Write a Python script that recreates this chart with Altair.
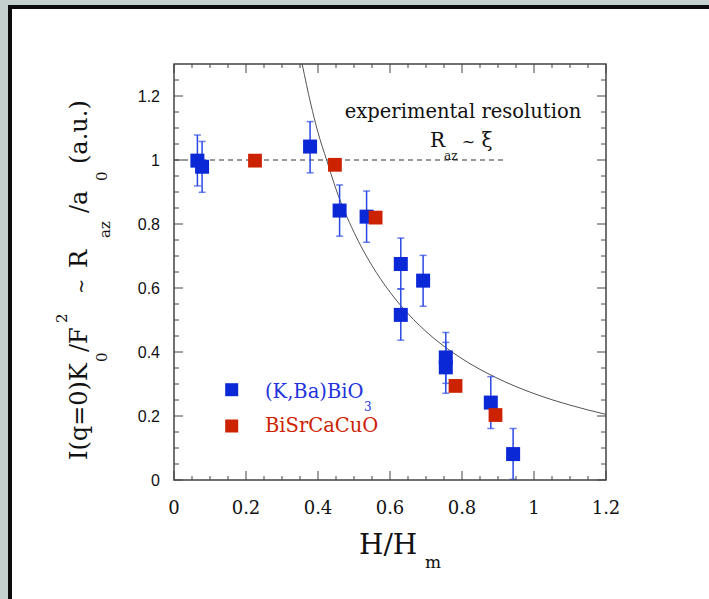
import altair as alt
import pandas as pd

# ---------------- data ----------------
kba_x = [0.065, 0.078, 0.378, 0.460, 0.535, 0.630, 0.630, 0.692, 0.755, 0.755, 0.880, 0.942]
kba_y = [0.998, 0.979, 1.042, 0.842, 0.823, 0.675, 0.516, 0.623, 0.383, 0.352, 0.242, 0.081]
kba_lo = [0.919, 0.899, 0.960, 0.762, 0.743, 0.597, 0.437, 0.543, 0.302, 0.271, 0.161, 0.002]
kba_hi = [1.078, 1.058, 1.120, 0.922, 0.903, 0.756, 0.597, 0.702, 0.461, 0.430, 0.323, 0.161]

bsc_x = [0.225, 0.447, 0.560, 0.782, 0.893]
bsc_y = [0.998, 0.985, 0.820, 0.294, 0.203]

curve_x = [0.356, 0.38, 0.40, 0.424, 0.45, 0.50, 0.55, 0.60, 0.63, 0.70, 0.80, 0.90, 1.00, 1.10, 1.20]
curve_y = [1.300, 1.175, 1.086, 1.000, 0.909, 0.774, 0.670, 0.587, 0.545, 0.464, 0.379, 0.317, 0.270, 0.234, 0.205]

res_x = [0.0, 0.915]
res_y = [1.0, 1.0]

x_major = [0, 0.2, 0.4, 0.6, 0.8, 1.0, 1.2]
x_labels = ["0", "0.2", "0.4", "0.6", "0.8", "1", "1.2"]
x_minor = [0.05, 0.1, 0.15, 0.25, 0.3, 0.35, 0.45, 0.5, 0.55, 0.65, 0.7, 0.75,
           0.85, 0.9, 0.95, 1.05, 1.1, 1.15]
y_major = [0, 0.2, 0.4, 0.6, 0.8, 1.0, 1.2]
y_labels = ["0", "0.2", "0.4", "0.6", "0.8", "1", "1.2"]
y_minor = [0.05, 0.1, 0.15, 0.25, 0.3, 0.35, 0.45, 0.5, 0.55, 0.65, 0.7, 0.75,
           0.85, 0.9, 0.95, 1.05, 1.1, 1.15, 1.25]

# ---------------- layout ----------------
W, H = 432, 416
SERIF = "DejaVu Serif"
BLUE = "#0a28d6"
BLUE_ERR = "#2a48e6"
RED = "#cc2200"
FRAME = "#444444"

xs = alt.Scale(domain=[0, 1.2], nice=False, zero=False)
ys = alt.Scale(domain=[0, 1.3], nice=False, zero=False)

kba = pd.DataFrame({"x": kba_x, "y": kba_y, "lo": kba_lo, "hi": kba_hi})
bsc = pd.DataFrame({"x": bsc_x, "y": bsc_y})
curve = pd.DataFrame({"x": curve_x, "y": curve_y})
res = pd.DataFrame({"x": res_x, "y": res_y})
one = pd.DataFrame({"d": [0]})

X = lambda: alt.X("x:Q", scale=xs, axis=None)
Y = lambda: alt.Y("y:Q", scale=ys, axis=None)

# background frame (decoration)
frame_black = alt.Chart(one).mark_rect(color="#0b0b0b").encode(
    x=alt.value(-166), x2=alt.value(W + 140), y=alt.value(-59), y2=alt.value(H + 140))
frame_white = alt.Chart(one).mark_rect(color="white").encode(
    x=alt.value(-162), x2=alt.value(W + 140), y=alt.value(-55), y2=alt.value(H + 140))

# tick labels
xlab = alt.Chart(pd.DataFrame({"v": x_major, "lab": x_labels})).mark_text(
    font=SERIF, fontSize=18, color="#111", align="center", baseline="alphabetic").encode(
    x=alt.X("v:Q", scale=xs, axis=None), y=alt.value(H + 34), text="lab:N")
ylab = alt.Chart(pd.DataFrame({"v": y_major, "lab": y_labels})).mark_text(
    font="Liberation Sans", fontSize=16, color="#111", align="right", baseline="alphabetic", dy=5.5).encode(
    y=alt.Y("v:Q", scale=ys, axis=None), x=alt.value(-14), text="lab:N")

def xticks(vals, length):
    d = pd.DataFrame({"v": vals})
    b = alt.Chart(d).mark_rule(color=FRAME, strokeWidth=1).encode(
        x=alt.X("v:Q", scale=xs, axis=None), y=alt.value(H), y2=alt.value(H - length))
    t = alt.Chart(d).mark_rule(color=FRAME, strokeWidth=1).encode(
        x=alt.X("v:Q", scale=xs, axis=None), y=alt.value(0), y2=alt.value(length))
    return [b, t]

def yticks(vals, length):
    d = pd.DataFrame({"v": vals})
    l = alt.Chart(d).mark_rule(color=FRAME, strokeWidth=1).encode(
        y=alt.Y("v:Q", scale=ys, axis=None), x=alt.value(0), x2=alt.value(length))
    r = alt.Chart(d).mark_rule(color=FRAME, strokeWidth=1).encode(
        y=alt.Y("v:Q", scale=ys, axis=None), x=alt.value(W), x2=alt.value(W - length))
    return [l, r]

ticks = xticks(x_major, 9) + xticks(x_minor, 4) + yticks(y_major, 9) + yticks(y_minor, 5)

box = alt.Chart(one).mark_rect(filled=False, stroke=FRAME, strokeWidth=1.5).encode(
    x=alt.value(0), x2=alt.value(W), y=alt.value(0), y2=alt.value(H))

curve_line = alt.Chart(curve).mark_line(color="#555555", strokeWidth=1, interpolate="monotone", clip=True).encode(
    x=X(), y=Y())
res_line = alt.Chart(res).mark_line(color="#333333", strokeWidth=1.2, strokeDash=[5, 4]).encode(
    x=X(), y=Y())

err = alt.Chart(kba).mark_rule(color=BLUE_ERR, strokeWidth=1.5).encode(
    x=X(), y=alt.Y("lo:Q", scale=ys, axis=None), y2="hi:Q")
cap_lo = alt.Chart(kba).mark_tick(color=BLUE_ERR, orient="horizontal", size=7, thickness=1.5).encode(
    x=X(), y=alt.Y("lo:Q", scale=ys, axis=None))
cap_hi = alt.Chart(kba).mark_tick(color=BLUE_ERR, orient="horizontal", size=7, thickness=1.5).encode(
    x=X(), y=alt.Y("hi:Q", scale=ys, axis=None))

blue_pts = alt.Chart(kba).mark_square(color=BLUE, size=196, opacity=1).encode(x=X(), y=Y())
red_pts = alt.Chart(bsc).mark_square(color=RED, size=190, opacity=1).encode(x=X(), y=Y())

def txt(s, x, y, size, color="#111", angle=0, align="left", font=SERIF):
    return alt.Chart(one).mark_text(text=s, font=font, fontSize=size, color=color, angle=angle,
                                    align=align, baseline="alphabetic").encode(
        x=alt.value(x), y=alt.value(y))

texts = [
    # annotation
    txt("experimental resolution", 289, 53.7, 19.5, align="center"),
    txt("R", 256, 82.7, 20),
    txt("az", 270, 96, 12),
    txt("~", 294.5, 82.7, 16, align="center"),
    txt("ξ", 313, 82.7, 20, align="center"),
    # legend
    txt("(K,Ba)BiO", 91, 334, 19.5, color="#2233dd"),
    txt("3", 190, 347, 12, color="#2233dd"),
    txt("BiSrCaCuO", 91, 368, 19.5, color=RED),
    # x title
    txt("H/H", 185, 490, 28),
    txt("m", 251, 504, 17),
    # y title (rotated)
    txt("I(q=0)K", -87, 396, 24, angle=270),
    txt("0", -67, 298, 15, angle=270),
    txt("/F", -87, 288, 24, angle=270),
    txt("2", -107, 259, 15, angle=270),
    txt("~", -87, 230, 18, angle=270),
    txt("R", -87, 204, 24, angle=270),
    txt("az", -64, 174, 15, angle=270),
    txt("/a", -87, 149, 24, angle=270),
    txt("0", -67, 117, 15, angle=270),
    txt("(a.u.)", -87, 100, 24, angle=270),
]

leg_sq = [
    alt.Chart(one).mark_square(color=BLUE, size=169, opacity=1).encode(x=alt.value(57.7), y=alt.value(325.7)),
    alt.Chart(one).mark_square(color=RED, size=169, opacity=1).encode(x=alt.value(57.7), y=alt.value(362)),
]

chart = alt.layer(
    frame_black, frame_white, xlab, ylab, *ticks, curve_line, res_line,
    err, cap_lo, cap_hi, blue_pts, red_pts, *leg_sq, *texts, box
).properties(
    width=W, height=H,
    autosize=alt.AutoSizeParams(type="none"),
    padding={"left": 174, "top": 64, "right": 709 - 174 - W, "bottom": 599 - 64 - H},
    background="#c4d0ce",
).configure_view(stroke=None)

chart.save("out.html", embed_options={"renderer": "svg", "actions": False})
